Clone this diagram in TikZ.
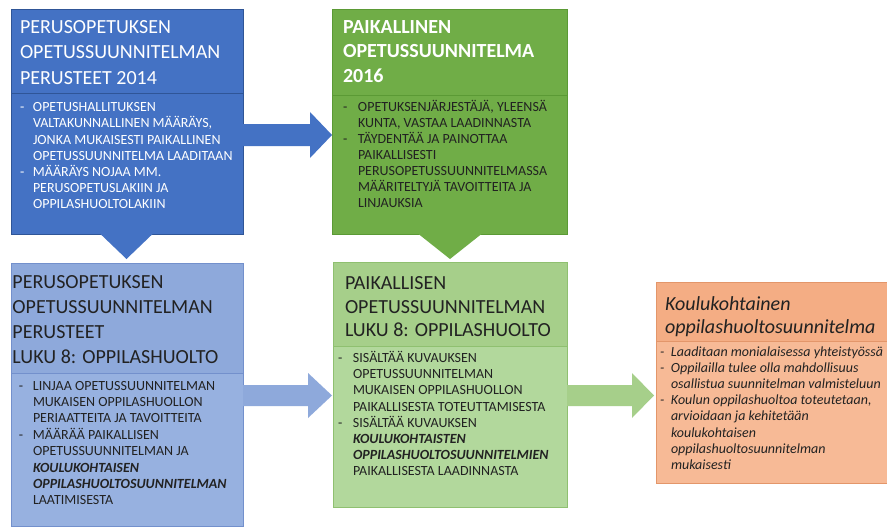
\documentclass[tikz,border=0pt]{standalone}
\usepackage{fontspec}
\setmainfont{Carlito}
\definecolor{bOne}{HTML}{4472C4}
\definecolor{bOneLine}{HTML}{2F5597}
\definecolor{gOne}{HTML}{70AD47}
\definecolor{gOneLine}{HTML}{5B9A35}
\definecolor{bTwo}{HTML}{8EA9DB}
\definecolor{bTwoB}{HTML}{97B1E0}
\definecolor{bTwoLine}{HTML}{7390CC}
\definecolor{gTwo}{HTML}{A6CF8A}
\definecolor{gTwoB}{HTML}{B2D89C}
\definecolor{gTwoLine}{HTML}{8FC070}
\definecolor{oTwo}{HTML}{F4AD84}
\definecolor{oTwoB}{HTML}{F7BA96}
\definecolor{oLine}{HTML}{E3966A}
\definecolor{txt}{HTML}{222222}
\newcommand\dsh[1]{\makebox[#1][l]{-}}
\newcommand\ind[1]{\hspace*{#1}}
\newcommand\bi[1]{\textbf{\textit{#1}}}
\begin{document}
\begin{tikzpicture}[x=1pt,y=-1pt,
  txtnode/.style={anchor=north west, inner sep=0pt, outer sep=0pt, align=left},
  hdrtxt/.style={txtnode, font=\fontsize{20}{#1}\selectfont},
  hdrbold/.style={txtnode, font=\fontsize{20}{#1}\selectfont\bfseries},
  hdrital/.style={txtnode, font=\fontsize{20}{#1}\selectfont\itshape},
  bodytxt/.style={txtnode, font=\fontsize{14}{#1}\selectfont},
  bodyital/.style={txtnode, font=\fontsize{14}{#1}\selectfont\itshape},
  boxline/.style={line width=0.8pt}]
\useasboundingbox (0,0) rectangle (887,527);
\fill[white] (0,0) rectangle (887,527);

% ---- box 1
\filldraw[fill=bOne, draw=bOneLine, boxline] (11,9) rectangle (243,234);
\draw[bOneLine, boxline] (11,93) -- (243,93);
\fill[bOne] (100,233.6) -- (153,233.6) -- (126.5,259) -- cycle;
\node[hdrtxt=25.8, text=white] (h1) at (20,13.1)
  {\rule{0pt}{20pt}PERUSOPETUKSEN\\OPETUSSUUNNITELMAN\\PERUSTEET 2014};
\node[bodytxt=16.1, text=white] (t1) at (20,97.8)
  {\rule{0pt}{14pt}\dsh{13pt}OPETUSHALLITUKSEN\\
   \ind{13pt}VALTAKUNNALLINEN MÄÄRÄYS,\\
   \ind{13pt}JONKA MUKAISESTI PAIKALLINEN\\
   \ind{13pt}OPETUSSUUNNITELMA LAADITAAN\\
   \dsh{13pt}MÄÄRÄYS NOJAA MM.\\
   \ind{13pt}PERUSOPETUSLAKIIN JA\\
   \ind{13pt}OPPILASHUOLTOLAKIIN};

% ---- box 2
\filldraw[fill=gOne, draw=gOneLine, boxline] (332,9) rectangle (567,234);
\draw[gOneLine, boxline] (332,95) -- (567,95);
\fill[gOne] (418,233.6) -- (482,233.6) -- (450,259) -- cycle;
\node[hdrbold=24.7, text=white] (h2) at (343,13.1)
  {\rule{0pt}{20pt}PAIKALLINEN\\OPETUSSUUNNITELMA\\2016};
\node[bodytxt=16.1, text=txt] (t2) at (343,97)
  {\rule{0pt}{14pt}\dsh{15pt}OPETUKSENJÄRJESTÄJÄ, YLEENSÄ\\
   \ind{15pt}KUNTA, VASTAA LAADINNASTA\\
   \dsh{15pt}TÄYDENTÄÄ JA PAINOTTAA\\
   \ind{15pt}PAIKALLISESTI\\
   \ind{15pt}PERUSOPETUSSUUNNITELMASSA\\
   \ind{15pt}MÄÄRITELTYJÄ TAVOITTEITA JA\\
   \ind{15pt}LINJAUKSIA};

% ---- arrow 1
\fill[bOne] (243,124) -- (310,124) -- (310,112) -- (332,135) -- (310,158)
  -- (310,146) -- (243,146) -- cycle;

% ---- box 3
\fill[bTwo] (11,263) rectangle (243,373);
\fill[bTwoB] (11,373) rectangle (243,526);
\draw[bTwoLine, boxline] (11,263) rectangle (243,526);
\draw[bTwoLine, boxline] (11,373) -- (243,373);
\node[hdrtxt=25, text=txt] (h3) at (12.5,268.4)
  {\rule{0pt}{20pt}PERUSOPETUKSEN\\OPETUSSUUNNITELMAN\\PERUSTEET\\LUKU 8: OPPILASHUOLTO};
\node[bodytxt=16.4, text=txt] (t3) at (19,376)
  {\rule{0pt}{14pt}\dsh{14pt}LINJAA OPETUSSUUNNITELMAN\\
   \ind{14pt}MUKAISEN OPPILASHUOLLON\\
   \ind{14pt}PERIAATTEITA JA TAVOITTEITA\\
   \dsh{14pt}MÄÄRÄÄ PAIKALLISEN\\
   \ind{14pt}OPETUSSUUNNITELMAN JA\\
   \ind{14pt}\bi{KOULUKOHTAISEN}\\
   \ind{14pt}\bi{OPPILASHUOLTOSUUNNITELMAN}\\
   \ind{14pt}LAATIMISESTA};

% ---- arrow 2
\fill[bTwo] (243,385) -- (308,385) -- (308,373) -- (332,395.5) -- (308,418)
  -- (308,406) -- (243,406) -- cycle;

% ---- box 4
\fill[gTwo] (333,262) rectangle (567,346);
\fill[gTwoB] (333,346) rectangle (567,507);
\draw[gTwoLine, boxline] (333,262) rectangle (567,507);
\draw[gTwoLine, boxline] (333,346) -- (567,346);
\node[hdrtxt=23.5, text=txt] (h4) at (345,269.5)
  {\rule{0pt}{20pt}PAIKALLISEN\\OPETUSSUUNNITELMAN\\LUKU 8: OPPILASHUOLTO};
\node[bodytxt=16.2, text=txt] (t4) at (338,348.5)
  {\rule{0pt}{14pt}\dsh{15pt}SISÄLTÄÄ KUVAUKSEN\\
   \ind{15pt}OPETUSSUUNNITELMAN\\
   \ind{15pt}MUKAISEN OPPILASHUOLLON\\
   \ind{15pt}PAIKALLISESTA TOTEUTTAMISESTA\\
   \dsh{15pt}SISÄLTÄÄ KUVAUKSEN\\
   \ind{15pt}\bi{KOULUKOHTAISTEN}\\
   \ind{15pt}\bi{OPPILASHUOLTOSUUNNITELMIEN}\\
   \ind{15pt}PAIKALLISESTA LAADINNASTA};

% ---- arrow 3
\fill[gTwo] (567,385) -- (632,385) -- (632,373) -- (654,395.5) -- (632,418)
  -- (632,406) -- (567,406) -- cycle;

% ---- box 5
\fill[oTwo] (656,282) rectangle (895,341);
\fill[oTwoB] (656,341) rectangle (895,483);
\draw[oLine, boxline] (656,282) rectangle (895,483);
\draw[oLine, boxline] (656,341) -- (895,341);
\node[hdrital=23, text=txt] (h5) at (665,290)
  {\rule{0pt}{20pt}Koulukohtainen\\oppilashuoltosuunnitelma};
\node[bodyital=16.2, text=txt] (t5) at (660,342)
  {\rule{0pt}{14pt}\dsh{11pt}Laaditaan monialaisessa yhteistyössä\\
   \dsh{11pt}Oppilailla tulee olla mahdollisuus\\
   \ind{11pt}osallistua suunnitelman valmisteluun\\
   \dsh{11pt}Koulun oppilashuoltoa toteutetaan,\\
   \ind{11pt}arvioidaan ja kehitetään\\
   \ind{11pt}koulukohtaisen\\
   \ind{11pt}oppilashuoltosuunnitelman\\
   \ind{11pt}mukaisesti};
\end{tikzpicture}
\end{document}
